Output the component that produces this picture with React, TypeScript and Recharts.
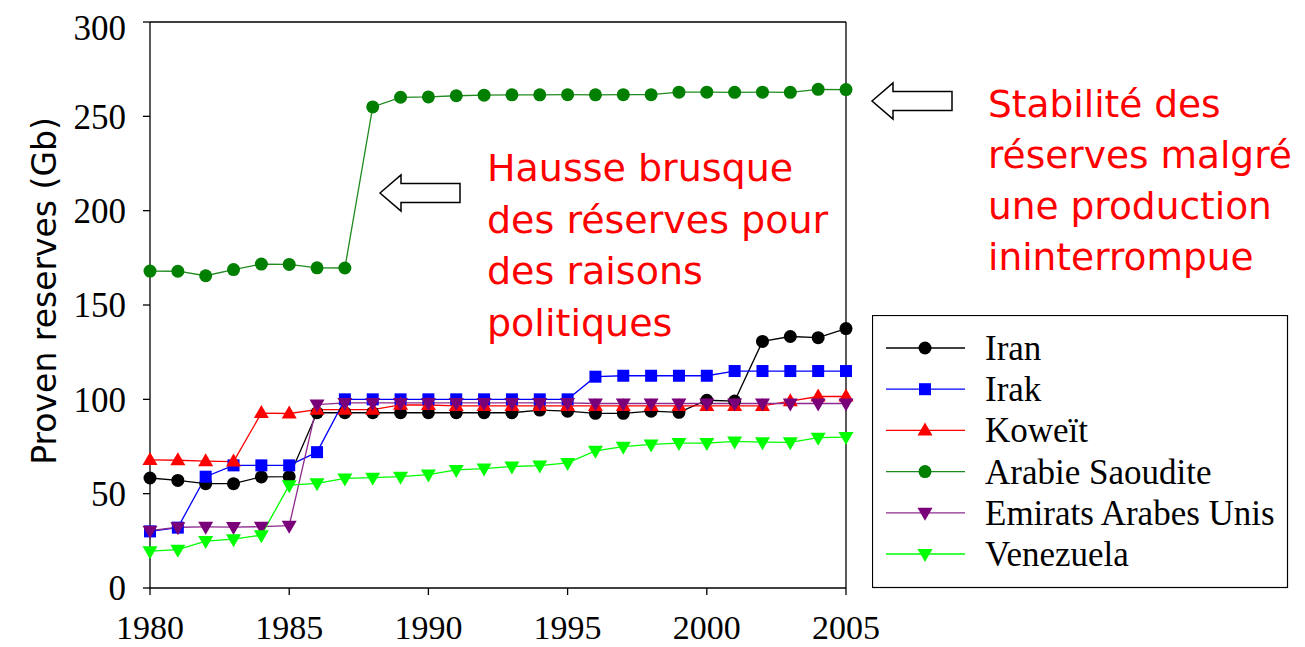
import { LineChart, Line, XAxis, YAxis, Legend, ReferenceLine } from "recharts";

const years = [
  1980, 1981, 1982, 1983, 1984, 1985, 1986, 1987, 1988, 1989, 1990, 1991, 1992,
  1993, 1994, 1995, 1996, 1997, 1998, 1999, 2000, 2001, 2002, 2003, 2004, 2005,
];

const iran = [
  58.3, 57.0, 55.3, 55.3, 58.9, 59.0, 92.9, 92.9, 92.9, 92.9, 92.9, 92.9, 92.9,
  92.9, 94.3, 93.7, 92.6, 92.6, 93.7, 93.1, 99.5, 99.1, 130.7, 133.3, 132.7, 137.5,
];
const irak = [
  30.0, 32.0, 59.0, 65.0, 65.0, 65.0, 72.0, 100.0, 100.0, 100.0, 100.0, 100.0, 100.0,
  100.0, 100.0, 100.0, 112.0, 112.5, 112.5, 112.5, 112.5, 115.0, 115.0, 115.0, 115.0, 115.0,
];
const koweit = [
  67.9, 67.7, 67.2, 67.0, 92.7, 92.5, 94.5, 94.5, 94.5, 97.1, 97.0, 96.5, 96.5,
  96.5, 96.5, 96.5, 96.5, 96.5, 96.5, 96.5, 96.5, 96.5, 96.5, 99.0, 101.5, 101.5,
];
const arabie = [
  168.0, 167.9, 165.5, 168.8, 171.7, 171.5, 169.7, 169.6, 255.0, 260.1, 260.3, 260.9, 261.2,
  261.4, 261.4, 261.5, 261.4, 261.5, 261.5, 262.8, 262.8, 262.7, 262.8, 262.7, 264.3, 264.2,
];
const emirats = [
  30.4, 32.2, 32.4, 32.3, 32.5, 33.0, 97.2, 98.1, 98.1, 98.1, 98.1, 98.1, 98.1,
  98.1, 98.1, 98.1, 97.8, 97.8, 97.8, 97.8, 97.8, 97.8, 97.8, 97.8, 97.8, 97.8,
];
const venezuela = [
  19.5, 20.3, 24.9, 25.9, 28.0, 54.5, 55.5, 58.1, 58.5, 59.0, 60.1, 62.6, 63.3,
  64.4, 64.9, 66.3, 72.7, 74.9, 76.1, 76.8, 76.8, 77.7, 77.3, 77.2, 79.7, 80.0,
];

const xTicks = [1980, 1985, 1990, 1995, 2000, 2005];
const yTicks = [0, 50, 100, 150, 200, 250, 300];

const noteLeft = ["Hausse brusque", "des réserves pour", "des raisons", "politiques"];
const noteRight = ["Stabilité des", "réserves malgré", "une production", "ininterrompue"];

const data = years.map((year, i) => ({
  year,
  iran: iran[i],
  irak: irak[i],
  koweit: koweit[i],
  arabie: arabie[i],
  emirats: emirats[i],
  venezuela: venezuela[i],
}));

type Shape = "circle" | "square" | "up" | "down";

const series: { key: string; name: string; line: string; fill: string; shape: Shape }[] = [
  { key: "iran", name: "Iran", line: "#000000", fill: "#000000", shape: "circle" },
  { key: "irak", name: "Irak", line: "#0000ff", fill: "#0000ff", shape: "square" },
  { key: "koweit", name: "Koweït", line: "#ff0000", fill: "#ff0000", shape: "up" },
  { key: "arabie", name: "Arabie Saoudite", line: "#1f8a1f", fill: "#007f00", shape: "circle" },
  { key: "emirats", name: "Emirats Arabes Unis", line: "#8e2a8e", fill: "#7a007a", shape: "down" },
  { key: "venezuela", name: "Venezuela", line: "#00ff00", fill: "#00ff00", shape: "down" },
];

function Marker({ cx, cy, shape, fill }: { cx: number; cy: number; shape: Shape; fill: string }) {
  if (shape === "circle") return <circle cx={cx} cy={cy} r={6.5} fill={fill} />;
  if (shape === "square")
    return <rect x={cx - 6} y={cy - 6} width={12} height={12} fill={fill} />;
  if (shape === "up")
    return <polygon points={`${cx},${cy - 8} ${cx + 7.5},${cy + 5} ${cx - 7.5},${cy + 5}`} fill={fill} />;
  return <polygon points={`${cx},${cy + 8} ${cx + 7.5},${cy - 5} ${cx - 7.5},${cy - 5}`} fill={fill} />;
}

const serif = "'Liberation Serif', 'Times New Roman', serif";
const comic = "'DejaVu Sans', sans-serif";

function renderLegend() {
  return (
    <svg width={417} height={274} style={{ display: "block" }}>
      <rect x={0.5} y={0.5} width={415} height={272} fill="#fff" stroke="#000" strokeWidth={1.2} />
      {series.map((s, i) => {
        const y = 33 + i * 41.2;
        return (
          <g key={s.key}>
            <line x1={14} x2={93} y1={y} y2={y} stroke={s.line} strokeWidth={1.3} />
            <Marker cx={53} cy={y} shape={s.shape} fill={s.fill} />
            <text x={113} y={y + 12} fontSize={35} fontFamily={serif} fill="#000">
              {s.name}
            </text>
          </g>
        );
      })}
    </svg>
  );
}

function arrow(tipX: number, tipY: number) {
  const headD = 21;
  const headH = 18;
  const shaftH = 9.5;
  const len = 80;
  const pts = [
    [tipX, tipY],
    [tipX + headD, tipY - headH],
    [tipX + headD, tipY - shaftH],
    [tipX + len, tipY - shaftH],
    [tipX + len, tipY + shaftH],
    [tipX + headD, tipY + shaftH],
    [tipX + headD, tipY + headH],
  ]
    .map((p) => p.join(","))
    .join(" ");
  return <polygon points={pts} fill="#fff" stroke="#000" strokeWidth={1.5} />;
}

export default function App() {
  const W = 1297;
  const H = 639;
  return (
    <div style={{ position: "relative", width: W, height: H }}>
      <LineChart
        width={W}
        height={H}
        data={data}
        margin={{ top: 14, right: 459, bottom: 19, left: 0 }}
      >
        <XAxis
          dataKey="year"
          type="number"
          domain={[1980, 2005]}
          ticks={xTicks}
          tickSize={7}
          tickMargin={20}
          height={40}
          axisLine={{ stroke: "#000", strokeWidth: 1.3 }}
          tickLine={{ stroke: "#000", strokeWidth: 1.3 }}
          tick={{ fill: "#000", fontSize: 34, fontFamily: serif }}
        />
        <YAxis
          domain={[0, 300]}
          ticks={yTicks}
          width={142}
          tickSize={7}
          tickMargin={17}
          axisLine={{ stroke: "#000", strokeWidth: 1.3 }}
          tickLine={{ stroke: "#000", strokeWidth: 1.3 }}
          tick={{ fill: "#000", fontSize: 35, fontFamily: serif }}
        />
        <ReferenceLine y={300} stroke="#000" strokeWidth={1.3} />
        <ReferenceLine x={2005} stroke="#000" strokeWidth={1.3} />
        {series.map((s) => (
          <Line
            key={s.key}
            dataKey={s.key}
            name={s.name}
            stroke={s.line}
            strokeWidth={1.3}
            isAnimationActive={false}
            dot={(p: any) => (
              <Marker key={`${s.key}-${p.index}`} cx={p.cx} cy={p.cy} shape={s.shape} fill={s.fill} />
            )}
            activeDot={false}
          />
        ))}
        <Legend
          layout="vertical"
          align="center"
          verticalAlign="middle"
          content={renderLegend}
          wrapperStyle={{ left: 864, top: 307, width: 417, height: 274 }}
        />
      </LineChart>
      <svg
        width={W}
        height={H}
        style={{ position: "absolute", left: 0, top: 0, pointerEvents: "none" }}
      >
        <g transform="translate(-8,-8)">
          <text
            transform="translate(56,291) rotate(-90)"
            textAnchor="middle"
            fontSize={33}
            fontFamily={comic}
            fill="#000"
          >
            Proven reserves (Gb)
          </text>
          {arrow(380, 193)}
          {arrow(872, 101)}
          {noteLeft.map((t, i) => (
            <text key={t} x={487} y={181 + i * 51.7} fontSize={38} fontFamily={comic} fill="#ff0000">
              {t}
            </text>
          ))}
          {noteRight.map((t, i) => (
            <text key={t} x={988} y={117 + i * 51} fontSize={37.5} fontFamily={comic} fill="#ff0000">
              {t}
            </text>
          ))}
        </g>
      </svg>
    </div>
  );
}
